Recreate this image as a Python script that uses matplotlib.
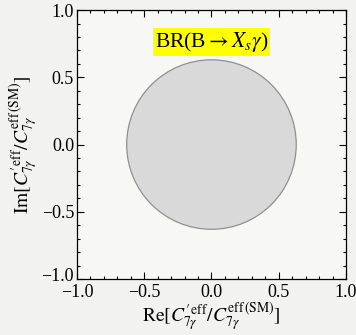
import matplotlib
matplotlib.use('Agg')
import matplotlib.pyplot as plt
import matplotlib.transforms as mtransforms
from matplotlib.patches import Circle
from matplotlib.ticker import MultipleLocator

plt.rcParams['font.family'] = ['Liberation Serif', 'DejaVu Serif']
plt.rcParams['mathtext.fontset'] = 'stix'

# allowed region of C7' from BR(B -> Xs gamma): disc around the origin
center_re = 0.0
center_im = 0.0
radius = 0.63

x_ticks = [-1.0, -0.5, 0.0, 0.5, 1.0]
y_ticks = [-1.0, -0.5, 0.0, 0.5, 1.0]
label_text = r'BR(B$\rightarrow X_s\gamma$)'
label_pos = (0.0, 0.765)

fig = plt.figure(figsize=(3.56, 3.35), dpi=100, facecolor='#f2f2f0')
ax = fig.add_axes([0.216, 0.167, 0.756, 0.803])
ax.set_facecolor('#f7f7f5')

disc = Circle((center_re, center_im), radius, facecolor='#d9d9d9',
              edgecolor='#909090', linewidth=0.9, zorder=2)
ax.add_patch(disc)

ax.text(label_pos[0], label_pos[1], label_text, fontsize=15.5, ha='center', va='center',
        bbox=dict(boxstyle='square,pad=0.1', facecolor='#ffff00', edgecolor='none'),
        zorder=3)

ax.set_xlim(-1.0, 1.0)
ax.set_ylim(-1.0, 1.0)
ax.set_xticks(x_ticks)
ax.set_yticks(y_ticks)
ax.xaxis.set_minor_locator(MultipleLocator(0.1))
ax.yaxis.set_minor_locator(MultipleLocator(0.1))
ax.tick_params(which='both', direction='in', top=True, right=True, labelsize=13,
               width=0.8, colors='black')
ax.tick_params(which='major', length=5)
ax.tick_params(which='minor', length=2.5)
ax.tick_params(axis='y', pad=2)
for s in ax.spines.values():
    s.set_linewidth(0.9)

# lift the lowest y label a little so it clears the x labels
lab = ax.get_yticklabels()[0]
lab.set_transform(lab.get_transform() + mtransforms.ScaledTranslation(0, 3 / 72, fig.dpi_scale_trans))

ax.set_xlabel(r'$\mathrm{Re}[C^{\prime\,\mathrm{eff}}_{7\gamma}/C^{\mathrm{eff\,(SM)}}_{7\gamma}]$',
              fontsize=14, labelpad=0)
ax.set_ylabel(r'$\mathrm{Im}[C^{\prime\,\mathrm{eff}}_{7\gamma}/C^{\mathrm{eff\,(SM)}}_{7\gamma}]$',
              fontsize=14, labelpad=1)

fig.savefig('out.png', dpi=100, facecolor=fig.get_facecolor())
